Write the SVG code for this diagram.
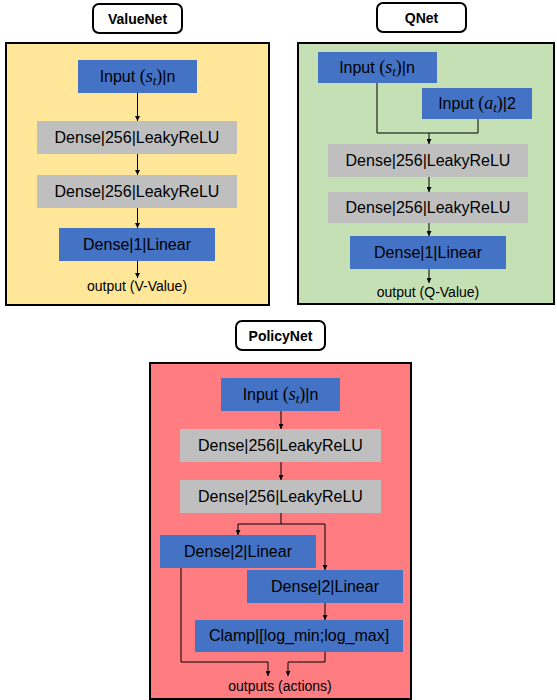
<svg xmlns="http://www.w3.org/2000/svg" width="557" height="700" viewBox="0 0 557 700">
<defs>
<style>
.title{fill:#fff;stroke:#000;stroke-width:2}
.ttl{font-family:"Liberation Sans",Arial,sans-serif;font-weight:bold;font-size:14px;text-anchor:middle;fill:#000}
.panel{stroke:#000;stroke-width:2}
.blue{fill:#4472C4}
.gray{fill:#BFBFBF}
.lbl{font-family:"Liberation Sans",Arial,sans-serif;font-size:16px;text-anchor:middle;fill:#000}
.out{font-family:"Liberation Sans",Arial,sans-serif;font-size:14px;text-anchor:middle;fill:#000}
.m{font-family:"Liberation Serif","Times New Roman",serif;font-style:italic;font-size:18px}
.mp{font-family:"Liberation Serif","Times New Roman",serif;font-size:18px}
.ms{font-family:"Liberation Serif","Times New Roman",serif;font-style:italic;font-size:13px}
.c{fill:none;stroke:#000;stroke-width:1}
.a{fill:none;stroke:#000;stroke-width:1;marker-end:url(#ah)}
</style>
<marker id="ah" viewBox="0 0 10 10" refX="10" refY="5" markerWidth="6" markerHeight="5" markerUnits="userSpaceOnUse" orient="auto">
<path d="M0,0 L10,5 L0,10 z" fill="#000"/>
</marker>
</defs>

<!-- ValueNet -->
<g id="valuenet-title"><rect class="title" x="93" y="4" width="89" height="29" rx="6"/><text class="ttl" x="137.5" y="23.5">ValueNet</text></g>
<g id="valuenet-panel"><rect class="panel" x="6" y="43" width="263" height="262" fill="#FFE699"/></g>
<g id="v-input"><rect class="blue" x="78" y="60" width="119" height="33"/><text class="lbl" x="137.5" y="82">Input <tspan class="mp">(</tspan><tspan class="m">s</tspan><tspan class="ms" dy="3">t</tspan><tspan class="mp" dy="-3">)</tspan>|n</text></g>
<g id="v-dense1"><rect class="gray" x="37" y="121" width="200" height="33"/><text class="lbl" x="137" y="143">Dense|256|LeakyReLU</text></g>
<g id="v-dense2"><rect class="gray" x="37" y="175" width="200" height="33"/><text class="lbl" x="137" y="197">Dense|256|LeakyReLU</text></g>
<g id="v-dense3"><rect class="blue" x="59" y="228" width="156" height="33"/><text class="lbl" x="137" y="250">Dense|1|Linear</text></g>
<g id="v-output"><text class="out" x="137" y="291">output (V-Value)</text></g>

<!-- QNet -->
<g id="qnet-title"><rect class="title" x="377" y="3" width="89" height="29" rx="6"/><text class="ttl" x="421.5" y="22.5">QNet</text></g>
<g id="qnet-panel"><rect class="panel" x="298" y="43" width="256" height="261" fill="#C5E0B4"/></g>
<g id="q-input-s"><rect class="blue" x="318" y="52" width="119" height="31"/><text class="lbl" x="377" y="73">Input <tspan class="mp">(</tspan><tspan class="m">s</tspan><tspan class="ms" dy="3">t</tspan><tspan class="mp" dy="-3">)</tspan>|n</text></g>
<g id="q-input-a"><rect class="blue" x="422" y="88" width="110" height="31"/><text class="lbl" x="477" y="109">Input <tspan class="mp">(</tspan><tspan class="m">a</tspan><tspan class="ms" dy="3">t</tspan><tspan class="mp" dy="-3">)</tspan>|2</text></g>
<g id="q-dense1"><rect class="gray" x="328" y="144" width="200" height="33"/><text class="lbl" x="428" y="166">Dense|256|LeakyReLU</text></g>
<g id="q-dense2"><rect class="gray" x="328" y="192" width="200" height="31"/><text class="lbl" x="428" y="213">Dense|256|LeakyReLU</text></g>
<g id="q-dense3"><rect class="blue" x="350" y="236" width="156" height="33"/><text class="lbl" x="428" y="258">Dense|1|Linear</text></g>
<g id="q-output"><text class="out" x="428" y="297">output (Q-Value)</text></g>

<!-- PolicyNet -->
<g id="policynet-title"><rect class="title" x="236" y="321" width="89" height="29" rx="6"/><text class="ttl" x="280.5" y="340.5">PolicyNet</text></g>
<g id="policynet-panel"><rect class="panel" x="150" y="363" width="261" height="336" fill="#FF7C80"/></g>
<g id="p-input"><rect class="blue" x="221" y="378" width="119" height="33"/><text class="lbl" x="280.5" y="400">Input <tspan class="mp">(</tspan><tspan class="m">s</tspan><tspan class="ms" dy="3">t</tspan><tspan class="mp" dy="-3">)</tspan>|n</text></g>
<g id="p-dense1"><rect class="gray" x="180" y="429" width="201" height="33"/><text class="lbl" x="280.5" y="451">Dense|256|LeakyReLU</text></g>
<g id="p-dense2"><rect class="gray" x="180" y="480" width="201" height="33"/><text class="lbl" x="280.5" y="502">Dense|256|LeakyReLU</text></g>
<g id="p-mean"><rect class="blue" x="160" y="535" width="156" height="33"/><text class="lbl" x="238" y="557">Dense|2|Linear</text></g>
<g id="p-logstd"><rect class="blue" x="247" y="570" width="156" height="33"/><text class="lbl" x="325" y="592">Dense|2|Linear</text></g>
<g id="p-clamp"><rect class="blue" x="195" y="620" width="208" height="32"/><text class="lbl" x="299" y="641">Clamp|[log_min;log_max]</text></g>
<g id="p-output"><text class="out" x="280" y="691">outputs (actions)</text></g>

<!-- connectors -->
<g id="connectors">
<path class="a" d="M137.5,93 V121"/>
<path class="a" d="M137.5,154 V175"/>
<path class="a" d="M137.5,208 V228"/>
<path class="a" d="M137.5,261 V278"/>

<path class="c" d="M377,83 V133 H478 V119"/>
<path class="a" d="M429,133 V144"/>
<path class="a" d="M429,177 V192"/>
<path class="a" d="M429,223 V236"/>
<path class="a" d="M429,269 V283"/>

<path class="a" d="M281,411 V429"/>
<path class="a" d="M281,462 V480"/>
<path class="c" d="M281,513 V524" stroke-width="1.5"/>
<path class="a" d="M238,524 V535"/>
<path class="a" d="M325,524 V570"/>
<path class="c" d="M238,524 H325"/>
<path class="a" d="M325,603 V620"/>
<path class="a" d="M181,568 V662 H268 V676"/>
<path class="a" d="M325,652 V662 H288 V676"/>
</g>
</svg>
